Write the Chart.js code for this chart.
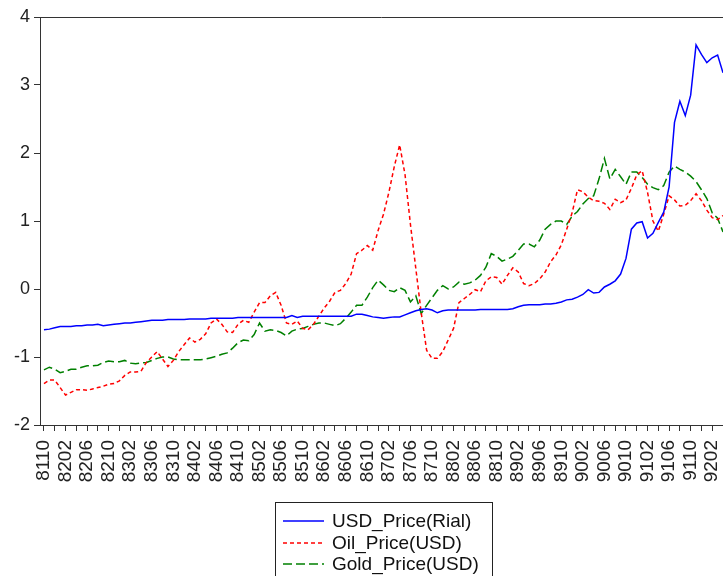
<!DOCTYPE html>
<html>
<head>
<meta charset="utf-8">
<script src="https://cdn.jsdelivr.net/npm/chart.js@4/dist/chart.umd.min.js"></script>
<style>
  body { margin: 0; background: #fff; }
</style>
</head>
<body>
<canvas id="priceChart" width="723" height="576"></canvas>
<script>
// month codes shown on the x axis, one every 4 months starting at 8110
const tickLabels = ['8110', '8202', '8206', '8210', '8302', '8306', '8310', '8402',
    '8406', '8410', '8502', '8506', '8510', '8602', '8606', '8610', '8702', '8706',
    '8710', '8802', '8806', '8810', '8902', '8906', '8910', '9002', '9006', '9010',
    '9102', '9106', '9110', '9202'];

// standardized monthly values, 8110 .. 9204
const usdPrice = [
    -0.60, -0.59, -0.57, -0.55, -0.55, -0.55, -0.54, -0.54, -0.53, -0.53,
    -0.52, -0.54, -0.53, -0.52, -0.51, -0.50, -0.50, -0.49, -0.48, -0.47,
    -0.46, -0.46, -0.46, -0.45, -0.45, -0.45, -0.45, -0.44, -0.44, -0.44,
    -0.44, -0.43, -0.43, -0.43, -0.43, -0.43, -0.42, -0.42, -0.42, -0.42,
    -0.42, -0.42, -0.42, -0.42, -0.42, -0.42, -0.39, -0.42, -0.40, -0.40,
    -0.40, -0.40, -0.40, -0.40, -0.40, -0.40, -0.40, -0.40, -0.37, -0.37,
    -0.39, -0.41, -0.42, -0.43, -0.42, -0.41, -0.41, -0.38, -0.35, -0.32,
    -0.30, -0.29, -0.31, -0.35, -0.32, -0.31, -0.31, -0.31, -0.31, -0.31,
    -0.31, -0.30, -0.30, -0.30, -0.30, -0.30, -0.30, -0.29, -0.26, -0.24,
    -0.23, -0.23, -0.23, -0.22, -0.22, -0.21, -0.19, -0.16, -0.15, -0.12,
    -0.08, -0.01, -0.06, -0.05, 0.03, 0.07, 0.12, 0.22, 0.45, 0.88,
    0.97, 0.99, 0.75, 0.82, 0.98, 1.13, 1.50, 2.45, 2.76, 2.55,
    2.85, 3.59, 3.45, 3.33, 3.40, 3.44, 3.18
];

const oilPrice = [
    -1.39, -1.34, -1.34, -1.45, -1.56, -1.52, -1.48, -1.48, -1.49, -1.47,
    -1.45, -1.43, -1.40, -1.39, -1.35, -1.27, -1.22, -1.22, -1.21, -1.08,
    -1.00, -0.92, -1.03, -1.14, -1.05, -0.92, -0.82, -0.72, -0.78, -0.74,
    -0.66, -0.50, -0.44, -0.52, -0.63, -0.64, -0.52, -0.46, -0.49, -0.34,
    -0.20, -0.20, -0.10, -0.05, -0.24, -0.50, -0.52, -0.47, -0.58, -0.60,
    -0.52, -0.40, -0.28, -0.18, -0.05, -0.02, 0.08, 0.22, 0.52, 0.57,
    0.64, 0.57, 0.86, 1.10, 1.42, 1.80, 2.12, 1.68, 0.95, 0.30,
    -0.35, -0.90, -1.02, -1.02, -0.92, -0.75, -0.58, -0.20, -0.14, -0.08,
    -0.01, -0.04, 0.12, 0.18, 0.17, 0.07, 0.20, 0.31, 0.25, 0.08,
    0.05, 0.08, 0.15, 0.25, 0.40, 0.50, 0.65, 0.88, 1.12, 1.46,
    1.43, 1.35, 1.30, 1.29, 1.26, 1.17, 1.32, 1.27, 1.31, 1.48,
    1.68, 1.74, 1.42, 1.00, 0.85, 1.10, 1.37, 1.31, 1.22, 1.23,
    1.30, 1.40, 1.30, 1.16, 1.05, 1.02, 1.08
];

const goldPrice = [
    -1.19, -1.15, -1.18, -1.23, -1.21, -1.18, -1.18, -1.15, -1.13, -1.13,
    -1.12, -1.08, -1.06, -1.07, -1.07, -1.05, -1.09, -1.10, -1.09, -1.08,
    -1.05, -1.02, -1.00, -1.00, -1.03, -1.04, -1.04, -1.04, -1.04, -1.04,
    -1.03, -1.01, -0.99, -0.96, -0.94, -0.87, -0.79, -0.75, -0.76, -0.67,
    -0.50, -0.62, -0.60, -0.61, -0.64, -0.69, -0.62, -0.59, -0.58, -0.55,
    -0.52, -0.50, -0.50, -0.52, -0.54, -0.51, -0.43, -0.34, -0.24, -0.24,
    -0.12, 0.02, 0.13, 0.06, -0.02, -0.04, 0.02, -0.02, -0.19, -0.10,
    -0.36, -0.24, -0.13, -0.02, 0.05, 0.00, 0.03, 0.10, 0.07, 0.09,
    0.13, 0.20, 0.32, 0.52, 0.48, 0.41, 0.44, 0.48, 0.57, 0.66,
    0.66, 0.62, 0.72, 0.88, 0.95, 1.00, 1.00, 0.95, 1.07, 1.14,
    1.25, 1.33, 1.37, 1.62, 1.92, 1.62, 1.76, 1.65, 1.54, 1.72,
    1.72, 1.64, 1.54, 1.49, 1.46, 1.52, 1.72, 1.81, 1.76, 1.72,
    1.66, 1.58, 1.46, 1.33, 1.12, 1.04, 0.84
];

const seriesNames = ['USD_Price(Rial)', 'Oil_Price(USD)', 'Gold_Price(USD)'];
const seriesColors = ['#0000ff', '#ff0000', '#008000'];
const seriesDash = [[], [4, 3], [9, 4]];

const FONT = '"Liberation Sans", Arial, sans-serif';

function toPoints(values) {
    return values.map((v, i) => ({ x: i, y: v }));
}

// top frame line (EViews style box, right side is cut off)
const frameTop = {
    id: 'frameTop',
    afterDraw(chart) {
        const { ctx, chartArea } = chart;
        ctx.save();
        ctx.strokeStyle = '#333';
        ctx.lineWidth = 1;
        ctx.beginPath();
        ctx.moveTo(chartArea.left, chartArea.top + 0.5);
        ctx.lineTo(chartArea.right, chartArea.top + 0.5);
        ctx.stroke();
        ctx.restore();
    }
};

// boxed legend under the axis, one series per row
const boxLegend = {
    id: 'boxLegend',
    afterDraw(chart) {
        const ctx = chart.ctx;
        const x = 275, y = 502, w = 217, h = 90;
        ctx.save();
        ctx.strokeStyle = '#222';
        ctx.lineWidth = 1;
        ctx.strokeRect(x + 0.5, y + 0.5, w, h);
        ctx.font = '19px ' + FONT;
        ctx.textBaseline = 'middle';
        seriesNames.forEach((name, i) => {
            const rowY = Math.round(y + 19 + i * 21.7);
            ctx.strokeStyle = seriesColors[i];
            ctx.lineWidth = 1.5;
            ctx.setLineDash(seriesDash[i]);
            ctx.beginPath();
            ctx.moveTo(x + 8, rowY);
            ctx.lineTo(x + 49, rowY);
            ctx.stroke();
            ctx.setLineDash([]);
            ctx.fillStyle = '#111';
            ctx.fillText(name, x + 57, rowY + 1);
        });
        ctx.restore();
    }
};

function initChart() {
    const ctx = document.getElementById('priceChart').getContext('2d');
    const series = [usdPrice, oilPrice, goldPrice];
    new Chart(ctx, {
        type: 'line',
        data: {
            datasets: series.map((values, i) => ({
                label: seriesNames[i],
                data: toPoints(values),
                borderColor: seriesColors[i],
                borderDash: seriesDash[i],
                borderWidth: 1.5,
                pointRadius: 0,
                tension: 0
            }))
        },
        options: {
            responsive: false,
            animation: false,
            devicePixelRatio: 1,
            layout: { padding: { top: 17, left: 0, right: 0, bottom: 0 } },
            plugins: {
                legend: { display: false },
                tooltip: { enabled: false }
            },
            scales: {
                x: {
                    type: 'linear',
                    min: -0.74,
                    max: 126,
                    afterFit: (scale) => {
                        scale.height = 151;
                        scale.paddingLeft = 0;
                        scale.paddingRight = 0;
                    },
                    border: { display: true, color: '#333', width: 1 },
                    grid: { drawOnChartArea: false, drawTicks: true, tickLength: 6, color: '#333' },
                    ticks: {
                        stepSize: 2,
                        includeBounds: false,
                        autoSkip: false,
                        minRotation: 90,
                        maxRotation: 90,
                        padding: 9,
                        color: '#222',
                        font: { family: FONT, size: 19 },
                        callback: (v) => (v % 4 === 0 ? tickLabels[v / 4] : '')
                    }
                },
                y: {
                    min: -2,
                    max: 4,
                    afterFit: (scale) => { scale.width = 40; },
                    border: { display: true, color: '#333', width: 1 },
                    grid: { drawOnChartArea: false, drawTicks: true, tickLength: 6, color: '#333' },
                    ticks: {
                        stepSize: 1,
                        padding: 4,
                        color: '#222',
                        font: { family: FONT, size: 18 }
                    }
                }
            }
        },
        plugins: [frameTop, boxLegend]
    });
}

window.addEventListener('load', () => {
    initChart();
});
</script>
</body>
</html>
